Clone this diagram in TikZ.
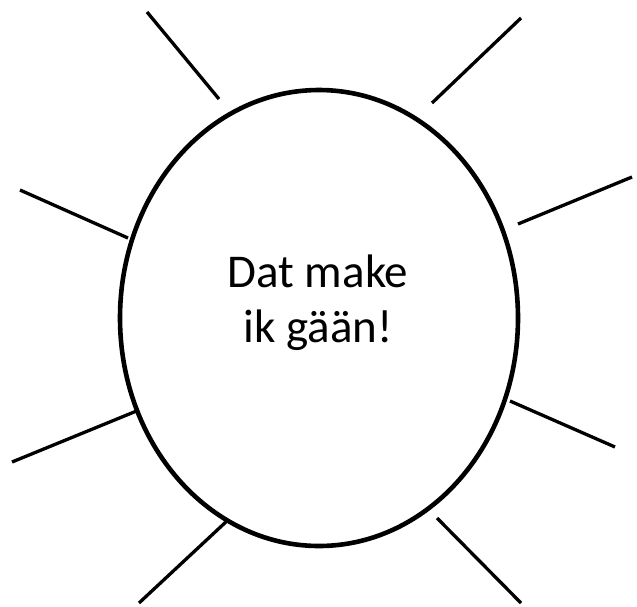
\documentclass[tikz,border=0pt]{standalone}
\usepackage{fontspec}
\setmainfont{Carlito}
\usetikzlibrary{shapes.geometric}
\begin{document}
\begin{tikzpicture}[x=1pt,y=-1pt,
  sunbody/.style={draw=black,line width=4.6pt,ellipse,minimum width=398pt,minimum height=456pt,inner sep=0pt},
  ray/.style={draw=black,line width=3.3pt},
  label/.style={align=center,font=\fontsize{47pt}{55pt}\selectfont,inner sep=0pt}]
\useasboundingbox (0,0) rectangle (637,606);
\node[sunbody] (sun) at (319,318) {};
\node[label] (txt) at (318,303) {Dat make\\ik gään!};
\coordinate (a1) at (147,12);  \coordinate (b1) at (219,99);
\coordinate (a2) at (521,18);  \coordinate (b2) at (432,103);
\coordinate (a3) at (20,190);  \coordinate (b3) at (128,238);
\coordinate (a4) at (632,177); \coordinate (b4) at (518,224);
\coordinate (a5) at (12,462);  \coordinate (b5) at (139,410);
\coordinate (a6) at (615,447); \coordinate (b6) at (510,401);
\coordinate (a7) at (139,603); \coordinate (b7) at (228,520);
\coordinate (a8) at (521,603); \coordinate (b8) at (437,518);
\foreach \i in {1,...,8} {\draw[ray] (a\i) -- (b\i);}
\end{tikzpicture}
\end{document}
